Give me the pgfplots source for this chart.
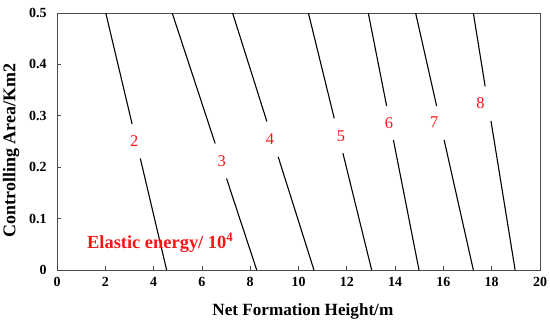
\documentclass[border=0pt]{standalone}
\usepackage{fontspec}
\setmainfont{Liberation Serif}
\usepackage{pgfplots}
\pgfplotsset{compat=1.18}
\definecolor{lbl}{RGB}{250,20,20}
\begin{document}
\begin{tikzpicture}
\begin{axis}[
 scale only axis, width=483bp, height=257bp,
 xmin=0,xmax=20,ymin=0,ymax=0.5,
 xtick={0,2,...,20}, ytick={0,0.1,0.2,0.3,0.4,0.5},
 tick align=inside, xtick pos=bottom, ytick pos=left,
 major tick length=4bp,
 axis line style={black!70, line width=0.8bp},
 every tick/.style={black!70, line width=0.8bp},
 /pgf/number format/assume math mode=true,
 ticklabel style={font=\fontsize{14}{14}\selectfont\bfseries},
 xticklabel style={yshift=-4bp},
 yticklabel style={xshift=-7bp,/pgf/number format/fixed,/pgf/number format/precision=1},
 xlabel={Net Formation Height/m}, ylabel={Controlling Area/Km2},
 xlabel style={at={(axis description cs:0.509,-0.162)}, anchor=center, font=\fontsize{17.2}{17.2}\selectfont\bfseries},
 ylabel style={at={(axis description cs:-0.095,0.465)}, anchor=center, font=\fontsize{18}{18}\selectfont\bfseries},
]
\coordinate (O) at (rel axis cs:0,0);
% contour lines (two segments each, gap for label)
\addplot[black, line width=1.1bp] coordinates {(2.02,0.5) (3.11,0.284)};
\addplot[black, line width=1.1bp] coordinates {(3.45,0.217) (4.54,0)};
\addplot[black, line width=1.1bp] coordinates {(4.77,0.5) (6.55,0.246)};
\addplot[black, line width=1.1bp] coordinates {(7.02,0.178) (8.27,0)};
\addplot[black, line width=1.1bp] coordinates {(7.27,0.5) (8.69,0.289)};
\addplot[black, line width=1.1bp] coordinates {(9.16,0.22) (10.64,0)};
\addplot[black, line width=1.1bp] coordinates {(10.41,0.5) (11.48,0.295)};
\addplot[black, line width=1.1bp] coordinates {(11.84,0.227) (13.03,0)};
\addplot[black, line width=1.1bp] coordinates {(12.89,0.5) (13.65,0.319)};
\addplot[black, line width=1.1bp] coordinates {(13.93,0.253) (14.99,0)};
\addplot[black, line width=1.1bp] coordinates {(14.85,0.5) (15.72,0.319)};
\addplot[black, line width=1.1bp] coordinates {(16.03,0.253) (17.24,0)};
\addplot[black, line width=1.1bp] coordinates {(17.24,0.5) (17.73,0.357)};
\addplot[black, line width=1.1bp] coordinates {(17.97,0.29) (18.97,0)};
\node[text=lbl, font=\fontsize{16.5}{16.5}\selectfont] at (axis cs:3.2,0.251) {2};
\node[text=lbl, font=\fontsize{16.5}{16.5}\selectfont] at (axis cs:6.82,0.212) {3};
\node[text=lbl, font=\fontsize{16.5}{16.5}\selectfont] at (axis cs:8.82,0.254) {4};
\node[text=lbl, font=\fontsize{16.5}{16.5}\selectfont] at (axis cs:11.76,0.261) {5};
\node[text=lbl, font=\fontsize{16.5}{16.5}\selectfont] at (axis cs:13.75,0.285) {6};
\node[text=lbl, font=\fontsize{16.5}{16.5}\selectfont] at (axis cs:15.62,0.287) {7};
\node[text=lbl, font=\fontsize{16.5}{16.5}\selectfont] at (axis cs:17.54,0.324) {8};
\node[anchor=west, inner sep=0pt, text=lbl, font=\fontsize{18.5}{18.5}\selectfont\bfseries] at (axis cs:1.24,0.053) {Elastic energy/ 10\textsuperscript{4}};
\end{axis}
\pgfresetboundingbox
\useasboundingbox (O) ++(-57bp,-55bp) rectangle ++(550bp,325bp);
\end{tikzpicture}
\end{document}
